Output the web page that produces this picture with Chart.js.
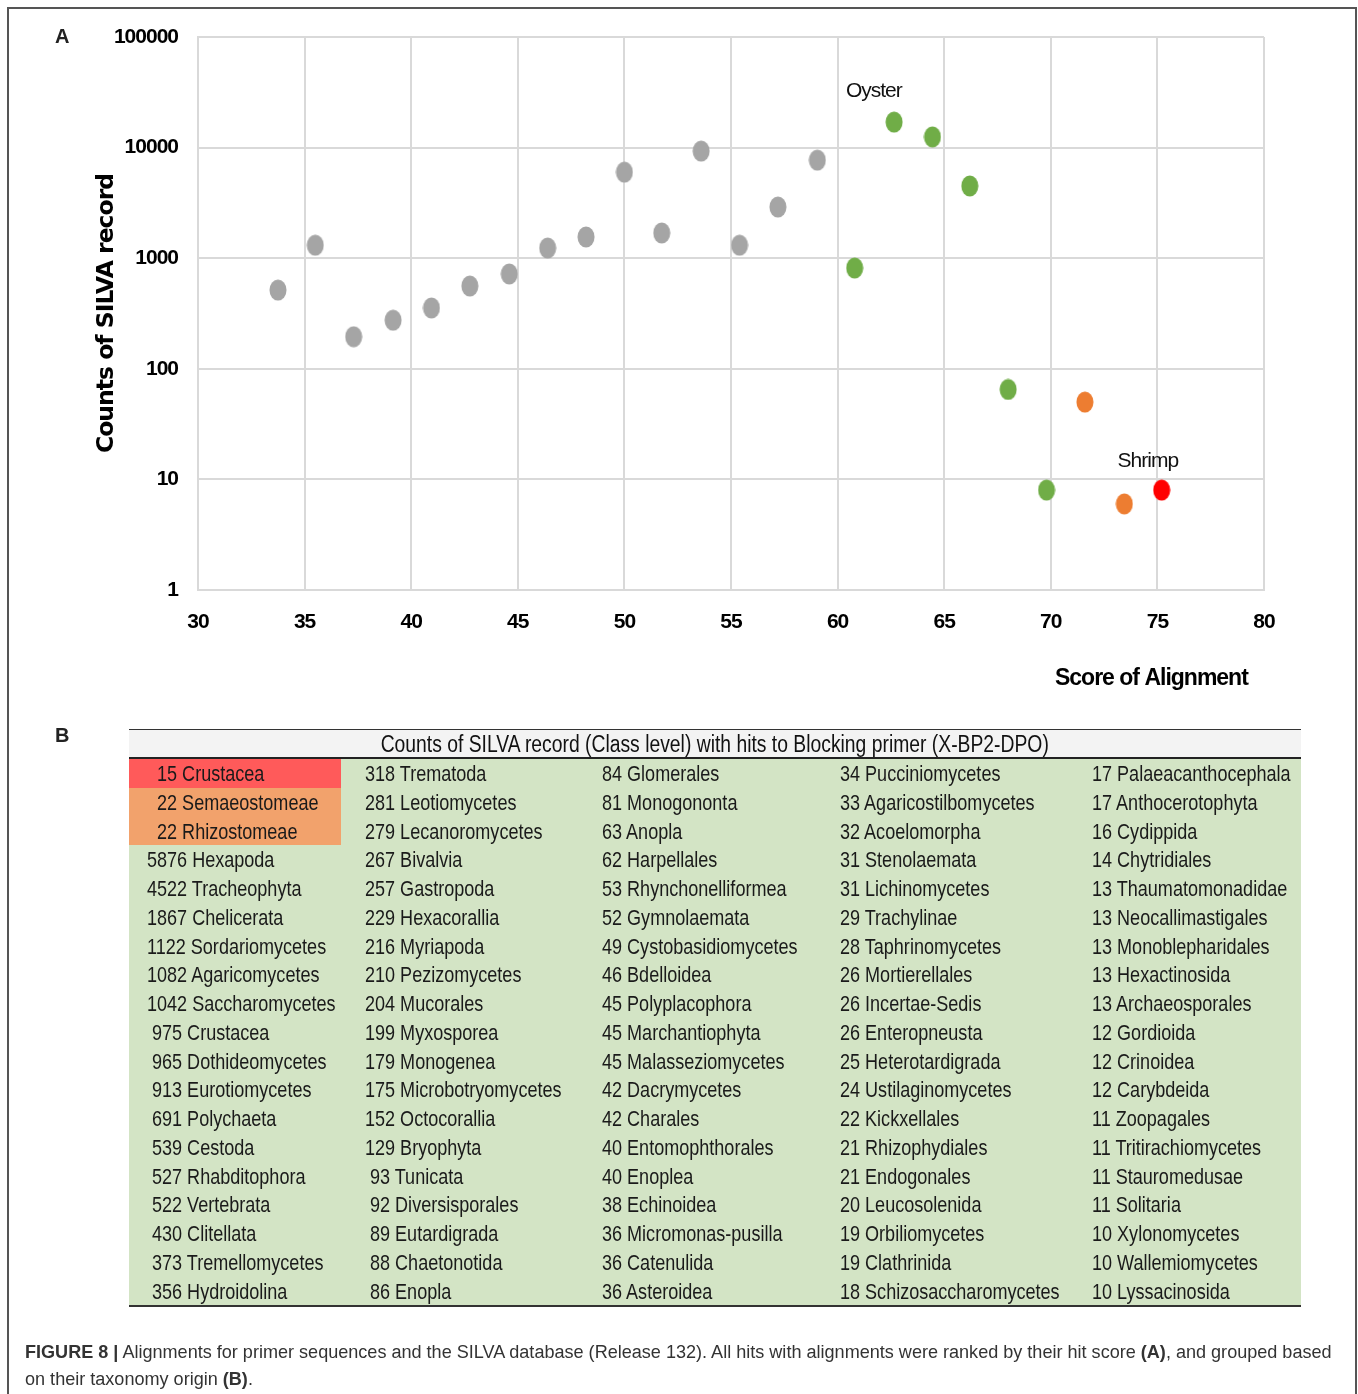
<!DOCTYPE html>
<html><head><meta charset="utf-8">
<script src="https://cdn.jsdelivr.net/npm/chart.js@4.4.0/dist/chart.umd.min.js"></script>
<style>
html,body{margin:0;padding:0;background:#fff;}
body{width:1358px;height:1394px;position:relative;overflow:hidden;}
#frame{position:absolute;left:7px;top:7px;width:1350px;height:1420px;border:2px solid #555;box-sizing:border-box;}
#chartWrap{position:absolute;left:0;top:0;width:1358px;height:710px;}
.panel{position:absolute;font-family:"Liberation Sans",Arial,sans-serif;font-weight:bold;font-size:20px;color:#222;line-height:24px;}
#tblHead{position:absolute;left:129px;top:729px;width:1172px;height:30px;box-sizing:border-box;border-top:1.5px solid #333;border-bottom:2px solid #222;background:#f3f3f3;text-align:center;font-family:"Liberation Sans",Arial,sans-serif;font-size:23px;line-height:28px;color:#111;white-space:nowrap;}
#tblHead span{display:inline-block;transform:scaleX(0.84);transform-origin:center;}
#tbl{position:absolute;left:129px;top:759px;width:1172px;display:grid;grid-template-columns:212px 243px 238px 252px 227px;grid-template-rows:repeat(19,28.75px);grid-auto-flow:column;background:#d3e4c5;border-bottom:2px solid #333;font-family:"Liberation Sans",Arial,sans-serif;font-size:22px;color:#1a1a1a;}
#tbl div{white-space:pre;line-height:28.75px;overflow:visible;box-sizing:border-box;padding-top:1px;}
#tbl span{display:inline-block;transform:scaleX(0.82);transform-origin:left center;}
#cap{position:absolute;left:25px;top:1339px;font-family:"Liberation Sans",Arial,sans-serif;font-size:18.07px;line-height:27px;color:#333;white-space:nowrap;}
</style></head>
<body>
<div id="chartWrap"><canvas id="c" width="1358" height="710"></canvas></div>
<div id="frame"></div>
<div class="panel" style="left:55px;top:24px;">A</div>
<div class="panel" style="left:55px;top:723px;">B</div>
<div id="tblHead"><span>Counts of SILVA record (Class level) with hits to Blocking primer (X-BP2-DPO)</span></div>
<div id="tbl"></div>
<div id="cap"><b>FIGURE 8 |</b> Alignments for primer sequences and the SILVA database (Release 132). All hits with alignments were ranked by their hit score <b>(A)</b>, and grouped based<br>on their taxonomy origin <b>(B)</b>.</div>
<script>
// ---------- Panel A data ----------
const xTickValues = [30, 35, 40, 45, 50, 55, 60, 65, 70, 75, 80];
const yTickValues = [1, 10, 100, 1000, 10000, 100000];
const yTickLabels = ['1', '10', '100', '1000', '10000', '100000'];
const graySeriesX = [33.75, 35.5, 37.3, 39.15, 40.95, 42.75, 44.6, 46.4, 48.2, 50.0, 51.75, 53.6, 55.4, 57.2, 59.05];
const graySeriesY = [515, 1310, 195, 275, 355, 560, 720, 1235, 1555, 6000, 1690, 9300, 1310, 2900, 7700];
const greenSeriesX = [60.8, 62.65, 64.45, 66.2, 68.0, 69.8];
const greenSeriesY = [815, 17000, 12500, 4500, 65, 8];
const orangeSeriesX = [71.6, 73.45];
const orangeSeriesY = [50, 6];
const redSeriesX = [75.2];
const redSeriesY = [8];
const noteLabels = ['Oyster', 'Shrimp'];
const noteX = [61.7, 74.55];
const noteY = [32500, 14.7];

// ---------- Panel B data ----------
const col1Counts = [15, 22, 22, 5876, 4522, 1867, 1122, 1082, 1042, 975, 965, 913, 691, 539, 527, 522, 430, 373, 356];
const col1Names = ['Crustacea','Semaeostomeae','Rhizostomeae','Hexapoda','Tracheophyta','Chelicerata','Sordariomycetes','Agaricomycetes','Saccharomycetes','Crustacea','Dothideomycetes','Eurotiomycetes','Polychaeta','Cestoda','Rhabditophora','Vertebrata','Clitellata','Tremellomycetes','Hydroidolina'];
const col2Counts = [318, 281, 279, 267, 257, 229, 216, 210, 204, 199, 179, 175, 152, 129, 93, 92, 89, 88, 86];
const col2Names = ['Trematoda','Leotiomycetes','Lecanoromycetes','Bivalvia','Gastropoda','Hexacorallia','Myriapoda','Pezizomycetes','Mucorales','Myxosporea','Monogenea','Microbotryomycetes','Octocorallia','Bryophyta','Tunicata','Diversisporales','Eutardigrada','Chaetonotida','Enopla'];
const col3Counts = [84, 81, 63, 62, 53, 52, 49, 46, 45, 45, 45, 42, 42, 40, 40, 38, 36, 36, 36];
const col3Names = ['Glomerales','Monogononta','Anopla','Harpellales','Rhynchonelliformea','Gymnolaemata','Cystobasidiomycetes','Bdelloidea','Polyplacophora','Marchantiophyta','Malasseziomycetes','Dacrymycetes','Charales','Entomophthorales','Enoplea','Echinoidea','Micromonas-pusilla','Catenulida','Asteroidea'];
const col4Counts = [34, 33, 32, 31, 31, 29, 28, 26, 26, 26, 25, 24, 22, 21, 21, 20, 19, 19, 18];
const col4Names = ['Pucciniomycetes','Agaricostilbomycetes','Acoelomorpha','Stenolaemata','Lichinomycetes','Trachylinae','Taphrinomycetes','Mortierellales','Incertae-Sedis','Enteropneusta','Heterotardigrada','Ustilaginomycetes','Kickxellales','Rhizophydiales','Endogonales','Leucosolenida','Orbiliomycetes','Clathrinida','Schizosaccharomycetes'];
const col5Counts = [17, 17, 16, 14, 13, 13, 13, 13, 13, 12, 12, 12, 11, 11, 11, 11, 10, 10, 10];
const col5Names = ['Palaeacanthocephala','Anthocerotophyta','Cydippida','Chytridiales','Thaumatomonadidae','Neocallimastigales','Monoblepharidales','Hexactinosida','Archaeosporales','Gordioida','Crinoidea','Carybdeida','Zoopagales','Tritirachiomycetes','Stauromedusae','Solitaria','Xylonomycetes','Wallemiomycetes','Lyssacinosida'];

// ---------- build table ----------
const tableCols = [[col1Counts, col1Names], [col2Counts, col2Names], [col3Counts, col3Names], [col4Counts, col4Names], [col5Counts, col5Names]];
const colPad = [18, 24, 18, 18, 18];
const hiColors = {0: '#ff5a5a', 1: '#f2a26c', 2: '#f2a26c'};
const tbl = document.getElementById('tbl');
tableCols.forEach((col, ci) => {
  const [counts, names] = col;
  const maxDigits = Math.max(...counts.map(c => String(c).length));
  counts.forEach((c, ri) => {
    const d = document.createElement('div');
    const sp = document.createElement('span');
    const s = String(c);
    sp.textContent = ' '.repeat(maxDigits - s.length) + s + ' ' + names[ri];
    d.appendChild(sp);
    d.style.paddingLeft = colPad[ci] + 'px';
    if (ci === 0 && hiColors[ri]) d.style.background = hiColors[ri];
    tbl.appendChild(d);
  });
});

// ---------- chart ----------
function ellipseImg(color) {
  const c = document.createElement('canvas');
  c.width = 18; c.height = 22;
  const g = c.getContext('2d');
  g.fillStyle = color;
  g.beginPath();
  g.ellipse(9, 11, 8.5, 10.5, 0, 0, Math.PI * 2);
  g.fill();
  return c;
}
const toPts = (xs, ys) => xs.map((x, i) => ({x: x, y: ys[i]}));
const sans = '"Liberation Sans",Arial,sans-serif';
const spacingPlugin = {
  id: 'spacing',
  beforeDraw(chart) { chart.ctx.letterSpacing = '-1px'; }
};
const notePlugin = {
  id: 'notes',
  afterDatasetsDraw(chart) {
    const ctx = chart.ctx, xs = chart.scales.x, ys = chart.scales.y;
    ctx.save();
    ctx.font = '21px ' + sans;
    ctx.fillStyle = '#111';
    ctx.textAlign = 'center';
    ctx.textBaseline = 'middle';
    noteLabels.forEach((t, i) => ctx.fillText(t, xs.getPixelForValue(noteX[i]), ys.getPixelForValue(noteY[i])));
    ctx.restore();
  }
};
const mk = (data, color) => ({data: data, pointStyle: ellipseImg(color), pointRadius: 9, backgroundColor: color, borderColor: color, showLine: false});
new Chart(document.getElementById('c'), {
  type: 'scatter',
  data: {datasets: [
    mk(toPts(graySeriesX, graySeriesY), '#a5a5a5'),
    mk(toPts(greenSeriesX, greenSeriesY), '#70ad47'),
    mk(toPts(orangeSeriesX, orangeSeriesY), '#ed7d31'),
    mk(toPts(redSeriesX, redSeriesY), '#ff0000')
  ]},
  options: {
    responsive: false, animation: false, devicePixelRatio: 1,
    layout: {padding: {left: 0, right: 94, top: 37, bottom: 0}},
    plugins: {legend: {display: false}, tooltip: {enabled: false}},
    scales: {
      x: {
        type: 'linear', min: 30, max: 80,
        afterBuildTicks: s => { s.ticks = xTickValues.map(v => ({value: v})); },
        afterFit: s => { s.height = 120; },
        ticks: {color: '#000', padding: 20, font: {family: sans, size: 21, weight: 'bold'}, maxRotation: 0},
        grid: {color: '#d9d9d9', lineWidth: 2, drawTicks: false},
        border: {color: '#d9d9d9', width: 2},
        title: {display: true, text: 'Score of Alignment   ', align: 'end', color: '#000', font: {family: sans, size: 23, weight: 'bold'}, padding: {top: 0, bottom: 18}}
      },
      y: {
        type: 'logarithmic', min: 1, max: 100000,
        afterBuildTicks: s => { s.ticks = yTickValues.map(v => ({value: v})); },
        afterFit: s => { s.width = 198; },
        ticks: {color: '#000', padding: 20, font: {family: sans, size: 21, weight: 'bold'}, callback: (v, i) => yTickLabels[i]},
        grid: {color: '#d9d9d9', lineWidth: 2, drawTicks: false},
        border: {color: '#d9d9d9', width: 2},
        title: {display: true, text: 'Counts of SILVA record', color: '#000', font: {family: '"DejaVu Sans",sans-serif', size: 23.5, weight: 'bold'}, padding: {top: 93, bottom: 0}}
      }
    }
  },
  plugins: [spacingPlugin, notePlugin]
});
</script>
</body></html>
